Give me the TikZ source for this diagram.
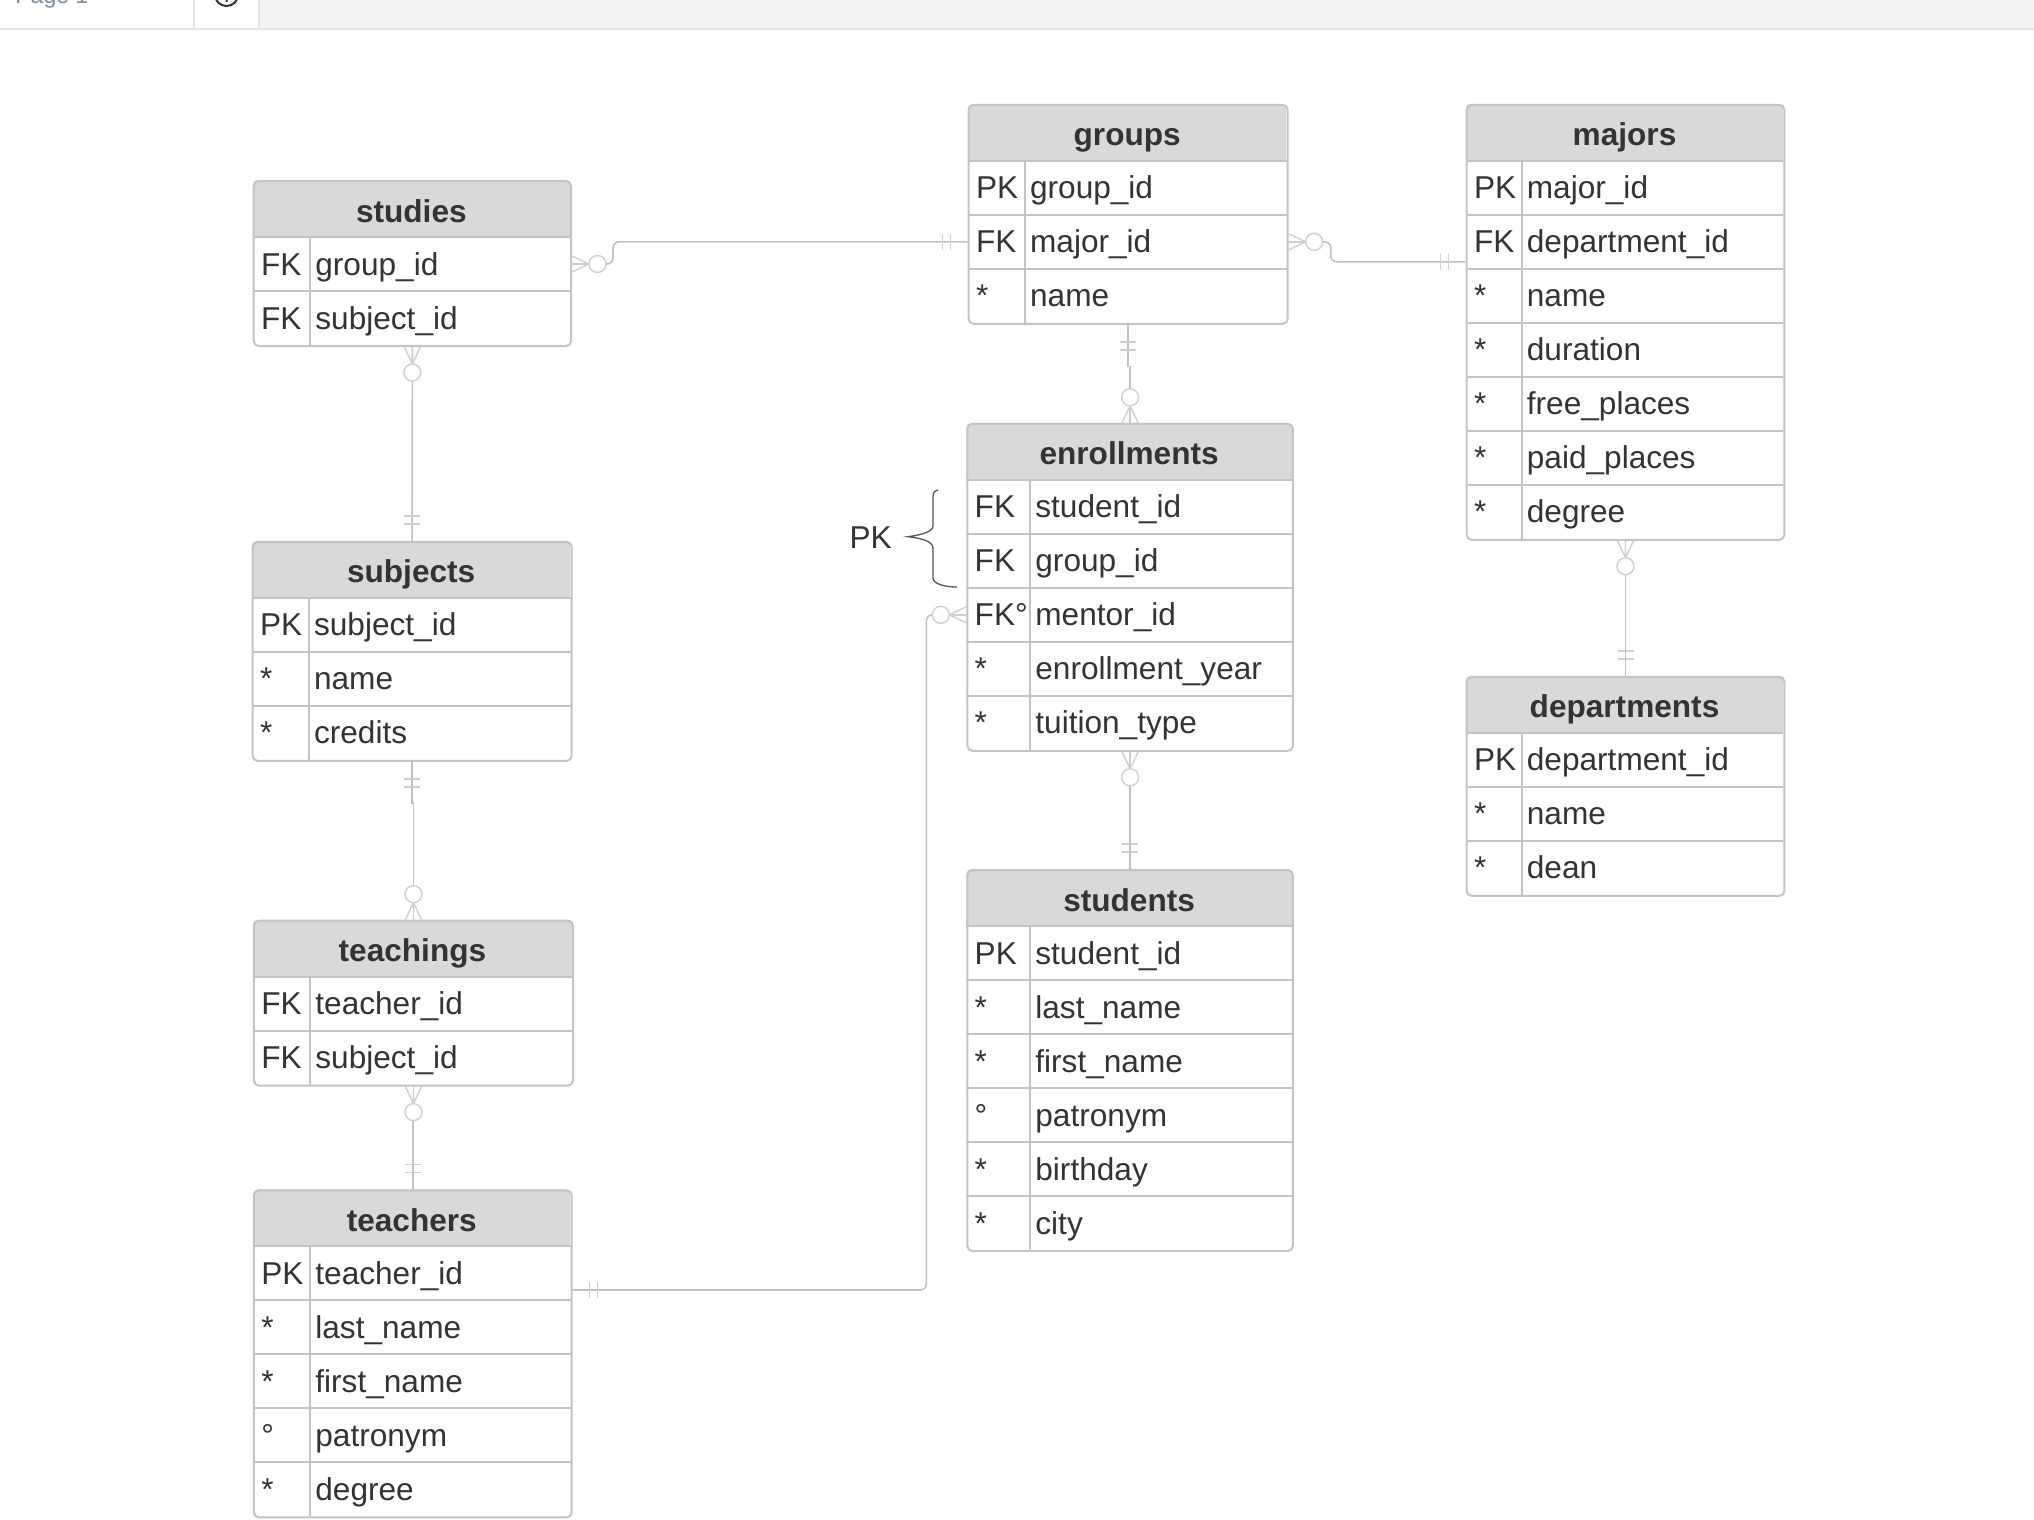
\documentclass[tikz,border=0pt]{standalone}
\usepackage{fontspec}
\setmainfont{Liberation Sans}
\usetikzlibrary{calc}

\definecolor{headgray}{HTML}{D9D9D9}
\definecolor{boxgray}{HTML}{C4C4C4}
\definecolor{linkgray}{HTML}{C2C2C2}
\definecolor{endgray}{HTML}{D0D0D0}
\definecolor{textdark}{HTML}{333333}
\definecolor{bargray}{HTML}{F3F4F6}
\definecolor{barline}{HTML}{E4E4E4}
\definecolor{pagegray}{HTML}{7F8C99}
\definecolor{bracegray}{HTML}{555555}

\tikzset{
  tablebox/.style={draw=boxgray, line width=1pt, rounded corners=2.5pt, inner sep=0pt},
  tableline/.style={draw=boxgray, line width=1pt},
  titletext/.style={font=\fontsize{15.8pt}{18pt}\selectfont\bfseries, text=textdark, inner sep=0pt, anchor=base},
  rowtext/.style={font=\fontsize{15.8pt}{18pt}\selectfont, text=textdark, inner sep=0pt, anchor=base west},
  link/.style={draw=linkgray, line width=0.8pt},
  linkend/.style={draw=endgray, line width=0.7pt},
}

% table: name, left, top, right, column line, rows, title, key/field list
\newcommand\erdtable[8]{%
  \pgfmathsetmacro\tabbot{#3+57+54*#6}
  \begin{scope}
    \clip[rounded corners=2.5pt] (#2,#3) rectangle (#4,\tabbot);
    \fill[headgray] (#2,#3) rectangle (#4,#3+57);
  \end{scope}
  \draw[tableline] (#2,#3+57) -- (#4,#3+57);
  \draw[tableline] (#5,#3+57) -- (#5,\tabbot);
  \node[tablebox, anchor=north west, minimum width={(#4-#2)*0.5pt},
        minimum height={(\tabbot-#3)*0.5pt}] (#1) at (#2,#3) {};
  \node[titletext] (#1-title) at ({(#2+#4)/2},#3+42) {#7};
  \foreach \key/\field [count=\i] in {#8} {
    \coordinate (#1-r\i) at (#2,{#3+57+54*(\i-1)+27});
    \node[rowtext] (#1-k\i) at (#2+8,{#3+57+54*(\i-1)+38}) {\key};
    \node[rowtext] (#1-f\i) at (#5+5,{#3+57+54*(\i-1)+38}) {\field};
    \ifnum\i>1 \draw[tableline] (#2,{#3+57+54*(\i-1)}) -- (#4,{#3+57+54*(\i-1)}); \fi
  }
}

% zero-or-many and exactly-one ends
\newcommand\zeromany[2]{%
  \begin{scope}[shift={(#1)}, rotate=#2]
    \draw[linkend] (0,8) -- (17,0) -- (0,-8) (0,0) -- (17,0);
    \draw[linkend, fill=white] (25.5,0) circle[radius=4.25pt];
  \end{scope}}
\newcommand\onlyone[2]{%
  \begin{scope}[shift={(#1)}, rotate=#2]
    \draw[linkend] (17,8) -- (17,-8) (25,8) -- (25,-8);
  \end{scope}}

\begin{document}
\begin{tikzpicture}[x=0.5pt, y=-0.5pt]
\clip (0,0) rectangle (2034,1520);

% page bar
\fill[bargray] (259,0) rectangle (2034,29);
\draw[barline, line width=1pt] (0,29.5) -- (2034,29.5);
\draw[barline, line width=1pt] (194,0) -- (194,29) (259,0) -- (259,29);
\node[font=\fontsize{11.5pt}{13pt}\selectfont, text=pagegray, anchor=base west, inner sep=0pt]
     (pagename) at (15,4) {Page 1};
\draw[textdark, line width=1pt] (226.5,-5.7) circle[radius=5.85pt] (226.5,-4) -- (226.5,2);

\erdtable{studies}{252.7}{180}{570}{310}{2}{studies}
  {FK/group\_id, FK/subject\_id}
\erdtable{subjects}{251.6}{540.9}{570.7}{308.7}{3}{subjects}
  {PK/subject\_id, */name, */credits}
\erdtable{teachings}{252.9}{919.6}{572}{310}{2}{teachings}
  {FK/teacher\_id, FK/subject\_id}
\erdtable{teachers}{252.9}{1189.4}{570.7}{310}{5}{teachers}
  {PK/teacher\_id, */last\_name, */first\_name, °/patronym, */degree}
\erdtable{groups}{967.7}{103.8}{1286.7}{1024.7}{3}{groups}
  {PK/group\_id, FK/major\_id, */name}
\erdtable{enrollments}{966.3}{422.8}{1291.9}{1030}{5}{enrollments}
  {FK/student\_id, FK/group\_id, FK°/mentor\_id, */enrollment\_year, */tuition\_type}
\erdtable{students}{966.3}{869}{1291.9}{1030}{6}{students}
  {PK/student\_id, */last\_name, */first\_name, °/patronym, */birthday, */city}
\erdtable{majors}{1465.6}{103.8}{1783.4}{1521.5}{7}{majors}
  {PK/major\_id, FK/department\_id, */name, */duration, */free\_places, */paid\_places, */degree}
\erdtable{departments}{1465.6}{675.8}{1783.4}{1521.5}{3}{departments}
  {PK/department\_id, */name, */dean}

% composite key
\node[rowtext, anchor=base] (pklabel) at (870.7,548) {PK};
\draw[bracegray, line width=0.65pt] (938,490) .. controls (934,491) and (933,493) .. (933,497)
  -- (933,526) .. controls (933,532) and (920,535) .. (908,536.7)
  .. controls (920,538) and (933,541) .. (933,548)
  -- (933,578) .. controls (933,584) and (945,587) .. (957,587);

% relationships
\draw[link, rounded corners=3pt] (studies.east |- studies-r1)
  -| ($(studies.east |- groups-r2)+(41,0)$) -- (groups.west |- groups-r2);
\draw[link, rounded corners=3pt] (groups.east |- groups-r2)
  -| ($(groups.east |- majors-r2)+(42,20)$) -- ($(majors-r2)+(0,20)$);
\draw[link, rounded corners=3pt] ($(teachers.east |- teachers-r1)+(0,16.6)$)
  -| ($(enrollments-r3)+(-40,0)$) -- (enrollments-r3);
\draw[link] (studies.south) -- (subjects.north);
\draw[link] (subjects.south) -- ++(0,41) -| (teachings.north);
\draw[link] (teachings.south) -- ++(0,30) -| (teachers.north);
\draw[link] (groups.south) -- ++(0,41.5) -| (enrollments.north);
\draw[link] (enrollments.south) -- (students.north);
\draw[link] (majors.south) -- (departments.north);

\zeromany{studies.east |- studies-r1}{0}
\onlyone{groups.west |- groups-r2}{180}
\zeromany{groups.east |- groups-r2}{0}
\onlyone{$(majors-r2)+(0,20)$}{180}
\onlyone{$(teachers.east |- teachers-r1)+(0,16.6)$}{0}
\zeromany{enrollments-r3}{180}
\zeromany{studies.south}{-90}
\onlyone{subjects.north}{90}
\onlyone{subjects.south}{-90}
\zeromany{teachings.north}{90}
\zeromany{teachings.south}{-90}
\onlyone{teachers.north}{90}
\onlyone{groups.south}{-90}
\zeromany{enrollments.north}{90}
\zeromany{enrollments.south}{-90}
\onlyone{students.north}{90}
\zeromany{majors.south}{-90}
\onlyone{departments.north}{90}
\end{tikzpicture}
\end{document}
